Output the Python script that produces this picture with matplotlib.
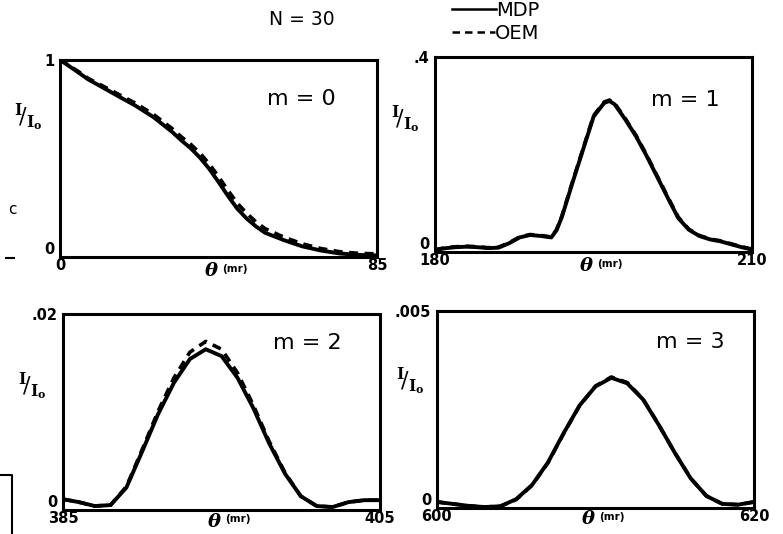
import matplotlib.pyplot as plt
from matplotlib.lines import Line2D

# ======= data =======
theta_m0 = [0, 5, 7.6, 10, 15, 16.5, 20, 25, 30, 32.6, 35, 37.5, 40, 42.5, 45,
            47.5, 50, 52.5, 55, 60, 65, 70, 75, 80, 85]
mdp_m0 = [1.0, 0.935, 0.90, 0.875, 0.822, 0.806, 0.77, 0.71, 0.635, 0.59, 0.552,
          0.504, 0.447, 0.38, 0.31, 0.245, 0.195, 0.155, 0.122, 0.085, 0.053,
          0.032, 0.017, 0.01, 0.007]
oem_m0 = [1.0, 0.94, 0.905, 0.882, 0.832, 0.817, 0.782, 0.724, 0.652, 0.608, 0.572,
          0.527, 0.472, 0.407, 0.338, 0.273, 0.222, 0.178, 0.143, 0.100, 0.066,
          0.042, 0.026, 0.018, 0.015]

theta_m1 = [180, 181, 182, 183, 184, 185, 186, 187, 188, 189, 190, 191, 191.5, 192,
            193, 194, 195, 196, 196.5, 197, 198, 199, 200, 201, 202, 203, 204, 205,
            206, 207, 208, 209, 210]
mdp_m1 = [0.004, 0.008, 0.010, 0.011, 0.010, 0.008, 0.009, 0.018, 0.030, 0.035,
          0.033, 0.030, 0.045, 0.072, 0.142, 0.210, 0.278, 0.306, 0.310, 0.303,
          0.272, 0.238, 0.198, 0.155, 0.112, 0.070, 0.046, 0.033, 0.026, 0.022,
          0.016, 0.010, 0.005]
oem_m1 = [0.005, 0.009, 0.011, 0.012, 0.011, 0.009, 0.010, 0.019, 0.031, 0.036,
          0.034, 0.031, 0.046, 0.074, 0.144, 0.212, 0.280, 0.308, 0.312, 0.305,
          0.274, 0.240, 0.200, 0.157, 0.114, 0.072, 0.047, 0.034, 0.027, 0.023,
          0.017, 0.011, 0.006]

theta_m2 = list(range(385, 406))
mdp_m2 = [0.0011, 0.0008, 0.0004, 0.0005, 0.0023, 0.0060, 0.0098, 0.0130, 0.0154,
          0.0164, 0.0157, 0.0135, 0.0104, 0.0068, 0.0037, 0.0014, 0.0004, 0.0003,
          0.0008, 0.0010, 0.0010]
oem_m2 = [0.0011, 0.0008, 0.0004, 0.0005, 0.0024, 0.0062, 0.0101, 0.0135, 0.0161,
          0.0172, 0.0164, 0.0140, 0.0107, 0.0070, 0.0038, 0.0014, 0.0004, 0.0003,
          0.0008, 0.0010, 0.0010]

theta_m3 = list(range(600, 621))
mdp_m3 = [0.00015, 0.00010, 0.00005, 0.00002, 0.00004, 0.00022, 0.00058, 0.00115,
          0.00190, 0.00260, 0.00308, 0.00330, 0.00316, 0.00275, 0.00210, 0.00140,
          0.00075, 0.00030, 0.00010, 0.00008, 0.00015]
oem_m3 = [0.00015, 0.00010, 0.00005, 0.00002, 0.00004, 0.00021, 0.00057, 0.00114,
          0.00189, 0.00259, 0.00309, 0.00332, 0.00318, 0.00276, 0.00210, 0.00140,
          0.00075, 0.00030, 0.00010, 0.00008, 0.00015]

panels = [
    # x, mdp, oem, xlim, ymax, ymax label, m label, axes rect, m-label pos, ylabel pos, theta offset
    (theta_m0, mdp_m0, oem_m0, (0, 85), 1.0, "1", "m = 0",
     [0.0766, 0.519, 0.405, 0.369], (0.76, 0.80), (-0.10, 0.71), -0.02),
    (theta_m1, mdp_m1, oem_m1, (180, 210), 0.4, ".4", "m = 1",
     [0.5556, 0.528, 0.405, 0.365], (0.79, 0.78), (-0.095, 0.68), -0.02),
    (theta_m2, mdp_m2, oem_m2, (385, 405), 0.02, ".02", "m = 2",
     [0.0805, 0.045, 0.405, 0.367], (0.77, 0.85), (-0.098, 0.63), -0.008),
    (theta_m3, mdp_m3, oem_m3, (600, 620), 0.005, ".005", "m = 3",
     [0.558, 0.049, 0.405, 0.369], (0.80, 0.84), (-0.085, 0.64), -0.008),
]

plt.rcParams['font.family'] = 'DejaVu Sans'
plt.rcParams['mathtext.fontset'] = 'dejavuserif'
fig = plt.figure(figsize=(7.83, 5.34), dpi=100)

for x, mdp, oem, xlim, ymax, ylab, mlab, rect, mpos, ypos, toff in panels:
    ax = fig.add_axes(rect)
    ax.plot(x, mdp, color='black', lw=2.8, solid_joinstyle='round')
    ax.plot(x, oem, color='black', lw=2.6, ls=(0, (2.5, 1.8)))
    ax.set_xlim(*xlim)
    ax.set_ylim(0, ymax)
    for s in ax.spines.values():
        s.set_linewidth(2.2)
    ax.set_xticks(list(xlim))
    ax.set_xticklabels([str(xlim[0]), str(xlim[1])], fontsize=10.5, fontweight='bold')
    ax.set_yticks([0, ymax])
    ax.set_yticklabels(["0", ylab], fontsize=10.5, fontweight='bold')
    ax.get_yticklabels()[0].set_verticalalignment('bottom')
    ax.tick_params(axis='x', length=0, pad=1)
    ax.tick_params(axis='y', length=0, pad=4)
    ax.text(mpos[0], mpos[1], mlab, transform=ax.transAxes, fontsize=16,
            ha='center', va='center')
    ax.text(0.5, toff, r"$\boldsymbol{\theta}$", transform=ax.transAxes,
            fontsize=14, ha='right', va='top')
    ax.text(0.51, toff - 0.015, "(mr)", transform=ax.transAxes, fontsize=7.5,
            ha='left', va='top', fontweight='bold')
    ax.text(ypos[0], ypos[1], r"$^{\mathbf{I}}\!/_{\mathbf{I_o}}$", transform=ax.transAxes,
            fontsize=16, ha='center', va='center')

fig.text(0.386, 0.964, "N = 30", fontsize=13.5, ha='center', va='center')
fig.add_artist(Line2D([0.577, 0.634], [0.983, 0.983], color='black', lw=1.8))
fig.add_artist(Line2D([0.577, 0.632], [0.94, 0.94], color='black', lw=1.8, ls=(0, (3, 2))))
fig.text(0.634, 0.981, "MDP", fontsize=14, ha='left', va='center')
fig.text(0.632, 0.938, "OEM", fontsize=14, ha='left', va='center')

# scan artifacts at the left edge
fig.text(0.01, 0.607, "c", fontsize=11, ha='left', va='center')
fig.add_artist(Line2D([0.008, 0.018], [0.517, 0.517], color='black', lw=1.5))
fig.add_artist(Line2D([0.0, 0.015, 0.015], [0.11, 0.11, 0.0], color='black', lw=1.5))

plt.savefig("out.png", dpi=100)
